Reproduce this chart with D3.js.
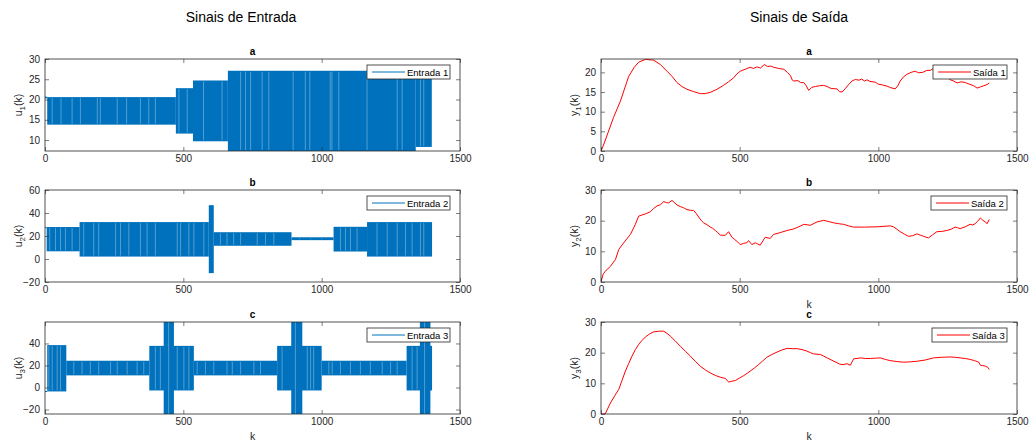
<!DOCTYPE html>
<html lang="pt">
<head>
<meta charset="UTF-8">
<title>Sinais de Entrada / Saída</title>
<script src="https://d3js.org/d3.v7.min.js"></script>
<style>
    body { margin: 0; background: #fff; }
    svg { font-family: "Liberation Sans", Arial, Helvetica, sans-serif; }
    .tick text { fill: #262626; font-size: 10px; }
    .tick line { stroke: #262626; stroke-width: 0.6; }
</style>
</head>
<body>
<div id="chart"></div>
<script>
    // ---- data ----
    const kTicks = [0, 500, 1000, 1500];

    // input signals: blocks where the signal keeps switching between lo and hi [k0, k1, lo, hi]
    const u1Segments = [
        [0, 8, 20.3, 20.7], [8, 473, 13.8, 20.6], [473, 535, 11.6, 22.8],
        [535, 661, 9.7, 24.7], [661, 1340, 7.3, 27.1], [1340, 1398, 8.3, 27.1]
    ];
    // places where the signal holds a level long enough to leave a light stripe
    const u1Gaps = [26, 58, 98, 128, 189, 200, 261, 295, 345, 375, 399, 484, 514, 573, 640,
        707, 725, 743, 785, 809, 897, 941, 957, 1031, 1037, 1062, 1164, 1273, 1291, 1357, 1369];

    const u2Segments = [
        [0, 6, 27.3, 27.7], [6, 125, 6.7, 27.8], [125, 592, 2.1, 32.1], [592, 610, -12.3, 46.8],
        [610, 891, 11.5, 23.3], [891, 1043, 16.4, 18.9], [1043, 1164, 6.5, 28.0], [1164, 1399, 2.1, 32.1]
    ];
    const u2Gaps = [17, 38, 56, 74, 98, 140, 176, 194, 255, 273, 303, 345, 369, 399, 478, 490, 520,
        538, 574, 634, 658, 682, 707, 767, 797, 827, 920, 960, 1000, 1068, 1086, 1104, 1128,
        1200, 1237, 1273, 1303, 1327, 1357, 1369];

    const u3Segments = [
        [0, 8, -3.6, -3.2], [8, 77, -3.6, 38.5], [77, 377, 11.0, 24.3], [377, 538, -2.7, 37.8],
        [429, 466, -30, 70], [538, 839, 11.0, 24.3], [839, 1000, -2.7, 37.8], [890, 930, -30, 70],
        [1000, 1307, 11.0, 24.3], [1307, 1399, -2.7, 37.8], [1355, 1393, -30, 70]
    ];
    const u3Gaps = [14, 26, 44, 56, 104, 134, 164, 194, 237, 261, 297, 333, 357, 399, 417, 447, 478,
        502, 520, 550, 580, 610, 658, 677, 707, 755, 779, 857, 905, 948, 960, 971, 1026, 1038,
        1068, 1104, 1140, 1176, 1219, 1249, 1273, 1327, 1345, 1372];

    // output signals [k, value]
    const y1Points = [[0, 0], [5, 0.8], [9, 1.5], [25, 4.6], [45, 8.5], [70, 12.7], [100, 19.0], [120, 21.3],
        [136, 22.6], [160, 23.3], [190, 23.1], [214, 22.0], [238, 20.3], [256, 19.0], [274, 17.4], [292, 16.4],
        [310, 15.7], [334, 15.1], [358, 14.6], [376, 14.6], [394, 14.9], [418, 15.7], [442, 16.7], [460, 17.6],
        [478, 18.6], [490, 19.6], [502, 20.3], [520, 20.8], [538, 21.3], [550, 21.0], [562, 21.4], [575, 21.1],
        [589, 22.0], [600, 21.5], [612, 21.6], [623, 21.3], [640, 21.0], [659, 20.8], [672, 20.0], [683, 19.2],
        [690, 18.0], [695, 17.8], [710, 17.9], [720, 17.4], [731, 17.4], [740, 16.6], [749, 15.4], [760, 16.2],
        [773, 16.4], [788, 16.6], [803, 16.7], [815, 16.4], [830, 15.9], [851, 15.8], [860, 15.1], [869, 15.0],
        [880, 15.8], [893, 16.9], [905, 17.8], [917, 18.2], [930, 18.0], [940, 18.3], [950, 17.8], [959, 18.1],
        [970, 17.7], [989, 17.5], [1000, 17.0], [1015, 16.8], [1031, 16.5], [1045, 16.1], [1061, 15.8],
        [1070, 16.6], [1079, 17.8], [1090, 18.8], [1103, 19.5], [1118, 20.0], [1133, 20.3], [1145, 19.9],
        [1160, 20.0], [1175, 20.5], [1187, 20.5], [1199, 21.0], [1215, 20.4], [1235, 19.4], [1250, 18.6],
        [1260, 18.1], [1272, 17.8], [1284, 17.3], [1298, 17.6], [1314, 17.4], [1328, 17.0], [1344, 16.6],
        [1356, 16.0], [1368, 16.3], [1380, 16.6], [1392, 16.9], [1400, 17.3]];

    const y2Points = [[0, 0], [7, 2.4], [15, 3.5], [34, 5.1], [52, 7.3], [64, 10.6], [82, 12.8], [106, 15.5],
        [124, 18.8], [136, 21.5], [160, 22.2], [178, 22.9], [190, 24.0], [202, 24.8], [214, 25.2], [226, 26.2],
        [236, 25.9], [244, 25.8], [256, 26.6], [274, 25.1], [286, 24.6], [298, 24.2], [310, 23.6], [322, 23.4],
        [334, 23.3], [343, 22.4], [352, 21.2], [361, 20.1], [370, 19.3], [382, 18.7], [394, 17.9], [403, 17.5],
        [412, 16.8], [421, 16.1], [430, 15.3], [448, 15.2], [460, 16.4], [472, 14.6], [481, 13.9], [490, 13.3],
        [502, 12.2], [514, 12.6], [526, 12.8], [532, 13.5], [544, 12.2], [556, 12.8], [565, 12.4], [574, 12.0],
        [592, 14.6], [610, 14.2], [622, 15.5], [646, 16.1], [671, 16.8], [695, 17.3], [713, 18.0], [731, 18.8],
        [755, 18.5], [779, 19.6], [803, 20.1], [821, 19.7], [839, 19.3], [857, 19.0], [875, 18.8], [893, 18.3],
        [911, 17.9], [950, 17.9], [995, 18.0], [1043, 18.3], [1055, 18.0], [1067, 17.2], [1079, 16.4],
        [1094, 15.6], [1109, 14.9], [1124, 15.1], [1139, 15.7], [1151, 15.3], [1163, 14.9], [1172, 14.6],
        [1181, 14.4], [1196, 15.4], [1211, 16.4], [1229, 16.5], [1247, 16.8], [1262, 17.2], [1277, 17.9],
        [1286, 17.7], [1295, 17.4], [1313, 18.0], [1331, 18.8], [1340, 18.6], [1349, 19.0], [1358, 19.8],
        [1368, 20.9], [1377, 20.1], [1386, 19.6], [1392, 19.0], [1400, 20.4]];

    const y3Points = [[0, 0], [15, 0], [34, 3.6], [50, 6.0], [64, 8.0], [76, 11.0], [88, 14.0], [100, 16.5],
        [112, 18.9], [124, 21.0], [136, 22.7], [148, 24.0], [160, 25.1], [175, 26.1], [190, 26.8], [210, 27.0],
        [226, 27.0], [238, 26.3], [250, 25.4], [268, 23.8], [286, 22.1], [304, 20.5], [322, 18.9], [340, 17.2],
        [358, 15.6], [376, 14.4], [394, 13.4], [412, 12.6], [430, 12.0], [448, 11.6], [455, 11.0], [460, 10.4],
        [472, 10.7], [484, 10.9], [499, 11.7], [514, 12.5], [526, 13.2], [538, 14.0], [553, 15.0], [568, 16.1],
        [583, 17.3], [598, 18.5], [616, 19.4], [635, 20.2], [653, 20.9], [671, 21.4], [689, 21.3], [707, 21.3],
        [725, 21.0], [743, 20.5], [755, 20.0], [767, 19.6], [779, 19.5], [791, 19.4], [803, 18.9], [815, 18.3],
        [833, 17.5], [851, 16.7], [860, 16.3], [869, 16.1], [878, 16.2], [887, 16.4], [899, 15.9], [911, 18.0],
        [923, 18.1], [935, 18.3], [953, 18.1], [971, 18.1], [989, 18.2], [1007, 18.3], [1025, 17.8],
        [1043, 17.4], [1067, 17.1], [1091, 16.9], [1115, 17.0], [1139, 17.2], [1169, 17.6], [1199, 18.3],
        [1229, 18.5], [1259, 18.6], [1277, 18.5], [1295, 18.3], [1313, 18.1], [1331, 17.8], [1347, 17.4],
        [1362, 16.9], [1368, 15.9], [1377, 15.8], [1386, 15.6], [1395, 15.2], [1400, 14.5]];

    // ---- layout ----
    const width = 1029, height = 443;
    const colLeft = [45, 460], colRight = [601, 1017];
    const rows = [[59, 151], [190, 282], [322, 414]];
    const ink = "#262626";

    const panels = [
        { col: colLeft, row: rows[0], title: "a", sym: "u", sub: "1", dom: [7.3, 30], ticks: [10, 15, 20, 25, 30],
          segs: u1Segments, gaps: u1Gaps, legend: "Entrada 1", legendW: 83, xlabel: false },
        { col: colLeft, row: rows[1], title: "b", sym: "u", sub: "2", dom: [-20, 60], ticks: [-20, 0, 20, 40, 60],
          segs: u2Segments, gaps: u2Gaps, legend: "Entrada 2", legendW: 83, xlabel: false },
        { col: colLeft, row: rows[2], title: "c", sym: "u", sub: "3", dom: [-24.1, 59.5], ticks: [-20, 0, 20, 40],
          segs: u3Segments, gaps: u3Gaps, legend: "Entrada 3", legendW: 83, xlabel: true },
        { col: colRight, row: rows[0], title: "a", sym: "y", sub: "1", dom: [0, 23.4], ticks: [0, 5, 10, 15, 20],
          points: y1Points, legend: "Saída 1", legendW: 74, xlabel: false },
        { col: colRight, row: rows[1], title: "b", sym: "y", sub: "2", dom: [0, 30], ticks: [0, 10, 20, 30],
          points: y2Points, legend: "Saída 2", legendW: 76, xlabel: true },
        { col: colRight, row: rows[2], title: "c", sym: "y", sub: "3", dom: [0, 30], ticks: [0, 10, 20, 30],
          points: y3Points, legend: "Saída 3", legendW: 75, xlabel: true }
    ];

    const svg = d3.select("#chart").append("svg")
        .attr("width", width).attr("height", height);
    svg.append("rect").attr("width", width).attr("height", height).attr("fill", "#fff");

    svg.append("text").attr("x", 241).attr("y", 22).attr("text-anchor", "middle")
        .attr("font-size", 14).attr("fill", "#000").text("Sinais de Entrada");
    svg.append("text").attr("x", 799).attr("y", 22).attr("text-anchor", "middle")
        .attr("font-size", 14).attr("fill", "#000").text("Sinais de Saída");

    const fmt = d3.format("d");

    panels.forEach((p, i) => {
        const x = d3.scaleLinear().domain([0, 1500]).range(p.col);
        const y = d3.scaleLinear().domain(p.dom).range([p.row[1], p.row[0]]);
        const g = svg.append("g");

        const clipId = "clip" + i;
        svg.append("clipPath").attr("id", clipId).append("rect")
            .attr("x", p.col[0]).attr("y", p.row[0])
            .attr("width", p.col[1] - p.col[0]).attr("height", p.row[1] - p.row[0]);
        const plot = g.append("g").attr("clip-path", `url(#${clipId})`);

        if (p.segs) {
            plot.selectAll("rect.seg").data(p.segs).join("rect").attr("class", "seg")
                .attr("x", d => x(d[0]))
                .attr("width", d => x(d[1]) - x(d[0]))
                .attr("y", d => y(d[3]))
                .attr("height", d => Math.max(1, y(d[2]) - y(d[3])))
                .attr("fill", "#0072BD");
            const gapData = p.gaps.map(k => {
                const s = p.segs.filter(d => d[0] <= k && k <= d[1]).pop();
                return { k, lo: s[2], hi: s[3] };
            });
            plot.selectAll("line.gap").data(gapData).join("line").attr("class", "gap")
                .attr("x1", d => x(d.k)).attr("x2", d => x(d.k))
                .attr("y1", d => y(d.hi) + 1).attr("y2", d => y(d.lo) - 1)
                .attr("stroke", "#fff").attr("stroke-width", 0.7).attr("stroke-opacity", 0.45);
        } else {
            const line = d3.line().x(d => x(d[0])).y(d => y(d[1]));
            plot.append("path").datum(p.points).attr("d", line)
                .attr("fill", "none").attr("stroke", "#FF0000").attr("stroke-width", 1)
                .attr("stroke-linejoin", "round");
        }

        // axes, ticks pointing inwards on all four sides
        const bottom = g.append("g").attr("transform", `translate(0,${p.row[1]})`)
            .call(d3.axisBottom(x).tickValues(kTicks).tickSize(-4).tickPadding(4).tickFormat(fmt));
        const top = g.append("g").attr("transform", `translate(0,${p.row[0]})`)
            .call(d3.axisTop(x).tickValues(kTicks).tickSize(-4).tickFormat(""));
        const left = g.append("g").attr("transform", `translate(${p.col[0]},0)`)
            .call(d3.axisLeft(y).tickValues(p.ticks).tickSize(-4).tickPadding(5).tickFormat(fmt));
        const right = g.append("g").attr("transform", `translate(${p.col[1]},0)`)
            .call(d3.axisRight(y).tickValues(p.ticks).tickSize(-4).tickFormat(""));
        [bottom, top, left, right].forEach(a => {
            a.select(".domain").remove();
            a.attr("font-family", null).attr("font-size", null);
        });

        g.append("rect").attr("x", p.col[0]).attr("y", p.row[0])
            .attr("width", p.col[1] - p.col[0]).attr("height", p.row[1] - p.row[0])
            .attr("fill", "none").attr("stroke", ink).attr("stroke-width", 0.8);

        // subplot title
        g.append("text").attr("x", (p.col[0] + p.col[1]) / 2).attr("y", p.row[0] - 4)
            .attr("text-anchor", "middle").attr("font-size", 10).attr("font-weight", "bold")
            .attr("fill", "#000").text(p.title);

        // y label with subscript
        const ly = (p.row[0] + p.row[1]) / 2;
        const lx = p.col[0] - 23;
        const yl = g.append("text").attr("transform", `translate(${lx},${ly}) rotate(-90)`)
            .attr("text-anchor", "middle").attr("font-size", 10.5).attr("fill", ink);
        yl.append("tspan").text(p.sym);
        yl.append("tspan").attr("dy", 3).attr("font-size", 8).text(p.sub);
        yl.append("tspan").attr("dy", -3).text("(k)");

        if (p.xlabel) {
            g.append("text").attr("x", (p.col[0] + p.col[1]) / 2).attr("y", p.row[1] + 26)
                .attr("text-anchor", "middle").attr("font-size", 10.5).attr("fill", ink).text("k");
        }

        // legend box in the top-right corner
        const lgX = p.col[1] - 10 - p.legendW, lgY = p.row[0] + 6;
        const lg = g.append("g");
        lg.append("rect").attr("x", lgX).attr("y", lgY).attr("width", p.legendW).attr("height", 14)
            .attr("fill", "#fff").attr("stroke", ink).attr("stroke-width", 0.8);
        lg.append("line").attr("x1", lgX + 5).attr("x2", lgX + 38)
            .attr("y1", lgY + 7).attr("y2", lgY + 7)
            .attr("stroke", p.segs ? "#0072BD" : "#FF0000").attr("stroke-width", 1);
        lg.append("text").attr("x", lgX + 40).attr("y", lgY + 10.5)
            .attr("font-size", 9.5).attr("fill", "#000").text(p.legend);
    });
</script>
</body>
</html>
